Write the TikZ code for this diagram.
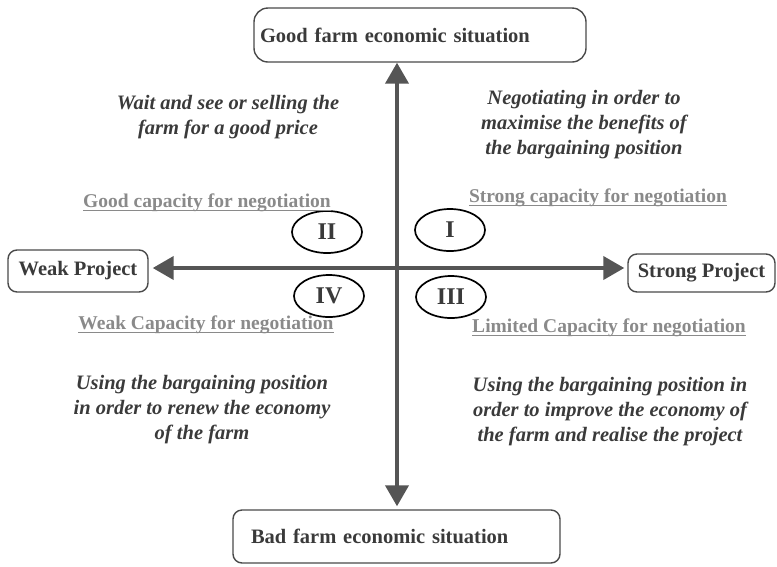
\documentclass[tikz,border=0pt]{standalone}
\usepackage{fontspec}
\setmainfont{Liberation Serif}
\usetikzlibrary{arrows.meta,shapes.geometric}
\definecolor{ink}{HTML}{3A3A3A}
\definecolor{axisgray}{HTML}{555555}
\definecolor{capgray}{HTML}{8A8A8A}
\definecolor{boxline}{HTML}{4A4A4A}
\tikzset{
  box/.style={draw=boxline, line width=1.4pt, rounded corners=9pt, text=ink,
    font=\fontsize{20.5}{25}\selectfont\bfseries, inner ysep=0pt},
  quad/.style={draw=black, line width=1.7pt, ellipse, minimum width=70pt,
    minimum height=42pt, inner sep=0pt, text=ink,
    font=\fontsize{24}{25}\selectfont\bfseries},
  note/.style={align=center, text=ink,
    font=\fontsize{20.5}{25}\selectfont\bfseries\itshape},
  capacity/.style={text=capgray, inner sep=0pt,
    font=\fontsize{19.5}{24}\selectfont\bfseries},
  capline/.style={draw=capgray, line width=1.4pt},
  axis/.style={draw=axisgray, line width=4pt,
    {Triangle[length=21pt,width=23pt]}-{Triangle[length=21pt,width=23pt]}}
}
\begin{document}
\begin{tikzpicture}[x=1pt,y=-1pt]
\useasboundingbox (0,0) rectangle (777,566);

% crossing point of the two axes
\coordinate (O) at (397,268);

% end boxes
\node[box, minimum height=54pt, text width=320pt, inner xsep=6pt, align=left,
  rounded corners=14pt] (top) at (420,35) {Good farm economic situation};
\node[box, minimum height=53pt, text width=291pt, inner xsep=18pt, align=left]
  (bot) at (396.5,536.5) {Bad farm economic situation};
\node[box, minimum height=42pt, minimum width=140pt, inner xsep=4pt]
  (weak) at (78,271) {Weak Project};
\node[box, minimum height=38pt, minimum width=147pt, inner xsep=4pt]
  (strong) at (701.5,273) {Strong Project};

% axes
\draw[axis, shorten >=3pt] (top.south -| O) -- (bot.north -| O);
\draw[axis, shorten <=4pt, shorten >=3pt] (weak.east |- O) -- (strong.west |- O);

% quadrant numbers
\node[quad] (q2) at (327,232) {II};
\node[quad] (q1) at (450,230) {I};
\node[quad] (q4) at (329,296) {IV};
\node[quad] (q3) at (451,297) {III};

% capacity labels, underlined
\node[capacity] (c2) at (207,203) {Good capacity for negotiation};
\node[capacity] (c1) at (598,198) {Strong capacity for negotiation};
\node[capacity] (c4) at (206,325) {Weak Capacity for negotiation};
\node[capacity] (c3) at (609,328) {Limited Capacity for negotiation};
\foreach \c in {c1,c2,c3,c4}
  \draw[capline] ([yshift=-2.5pt]\c.base west) -- ([yshift=-2.5pt]\c.base east);

% strategy notes
\node[note] (n2) at (228,117) {Wait and see or selling the\\farm for a good price};
\node[note] (n1) at (584,125) {Negotiating in order to\\maximise the benefits of\\the bargaining position};
\node[note] (n4) at (202,410) {Using the bargaining position\\in order to renew the economy\\of the farm};
\node[note] (n3) at (610,412) {Using the bargaining position in\\order to improve the economy of\\the farm and realise the project};
\end{tikzpicture}
\end{document}
